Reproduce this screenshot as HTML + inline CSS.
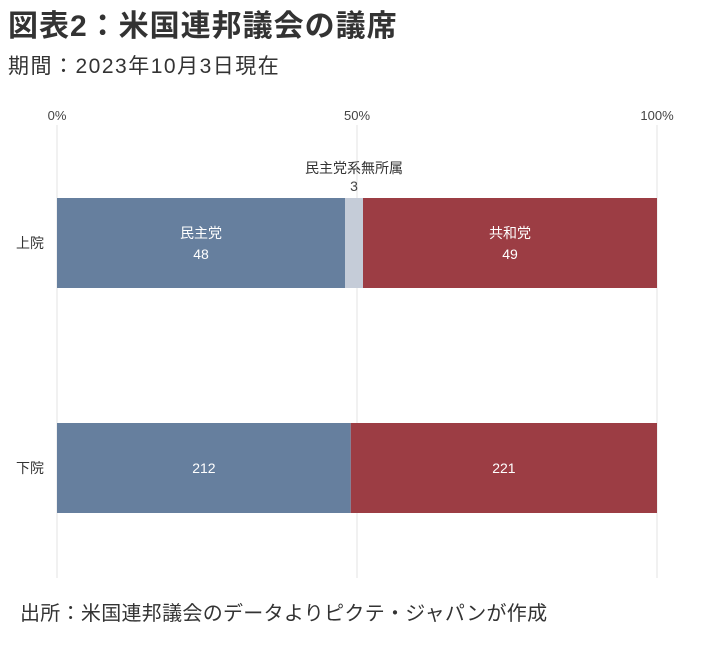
<!DOCTYPE html>
<html><head><meta charset="utf-8"><style>
body{margin:0;background:#fff;width:702px;height:640px;overflow:hidden;font-family:"Liberation Sans","Noto Sans CJK JP",sans-serif;}
</style></head><body>
<svg width="702" height="640" font-family="Liberation Sans, Noto Sans CJK JP, sans-serif">
<text x="8" y="36" font-size="30" font-weight="bold" fill="#333" letter-spacing="1">図表2：米国連邦議会の議席</text>
<text x="8" y="73" font-size="21" fill="#333" letter-spacing="1.5">期間：2023年10月3日現在</text>
<g id="grid"></g>
<g id="bars"></g>
<text x="20" y="620" font-size="20" fill="#333" letter-spacing="0.3">出所：米国連邦議会のデータよりピクテ・ジャパンが作成</text>
</svg>
<script>
const chambers=["上院","下院"];
const dem=[48,212];
const ind=[3,0];
const rep=[49,221];
const ticks=[0,50,100];
const tickLabels=["0%","50%","100%"];
const ns="http://www.w3.org/2000/svg";
const x0=57,x1=657,bandY=[198,423],bh=90;
const xs=p=>x0+(x1-x0)*p/100;
function mk(tag,attrs,parent,txt){const e=document.createElementNS(ns,tag);for(const k in attrs)e.setAttribute(k,attrs[k]);if(txt!=null)e.textContent=txt;parent.appendChild(e);return e;}
const grid=document.getElementById('grid'),bars=document.getElementById('bars');
ticks.forEach((t,i)=>{
 const l=mk('line',{x1:xs(t),x2:xs(t),y1:125,y2:578,stroke:'#e3e3e3','stroke-width':1},grid);
 
 
 const tx=mk('text',{x:xs(t),y:120,'text-anchor':'middle','font-size':13,fill:'#444'},grid,tickLabels[i]);
 
 
});
chambers.forEach((c,i)=>{
 const tot=dem[i]+ind[i]+rep[i];
 const y=bandY[i];
 const segs=[[dem[i],'#667f9e','democrat'],[ind[i],'#c5ccd8','independent'],[rep[i],'#9c3d44','republican']];
 let acc=0;
 const lab=mk('text',{x:16,y:y+bh/2+5,'font-size':14,fill:'#333'},bars,c);
 
 
 segs.forEach(s=>{
  const a=xs(acc/tot*100),b=xs((acc+s[0])/tot*100);acc+=s[0];
  if(s[0]===0)return;
  const r=mk('rect',{x:a,y:y,width:b-a,height:bh,fill:s[1]},bars);
  
  
  const cx=(a+b)/2;
  if(s[2]==='independent'){
   const t1=mk('text',{x:cx,y:y-25,'text-anchor':'middle','font-size':14,fill:'#333'},bars,'民主党系無所属');
   
   
   const t2=mk('text',{x:cx,y:y-7,'text-anchor':'middle','font-size':14,fill:'#444'},bars,s[0]);
   
   
  } else if(i===0){
   const t1=mk('text',{x:cx,y:y+40,'text-anchor':'middle','font-size':14,fill:'#fff'},bars,s[2]==='democrat'?'民主党':'共和党');
   
   
   const t2=mk('text',{x:cx,y:y+61,'text-anchor':'middle','font-size':14,fill:'#fff'},bars,s[0]);
   
   
  } else {
   const t2=mk('text',{x:cx,y:y+bh/2+5,'text-anchor':'middle','font-size':14,fill:'#fff'},bars,s[0]);
   
   
  }
 });
});
</script>
</body></html>
